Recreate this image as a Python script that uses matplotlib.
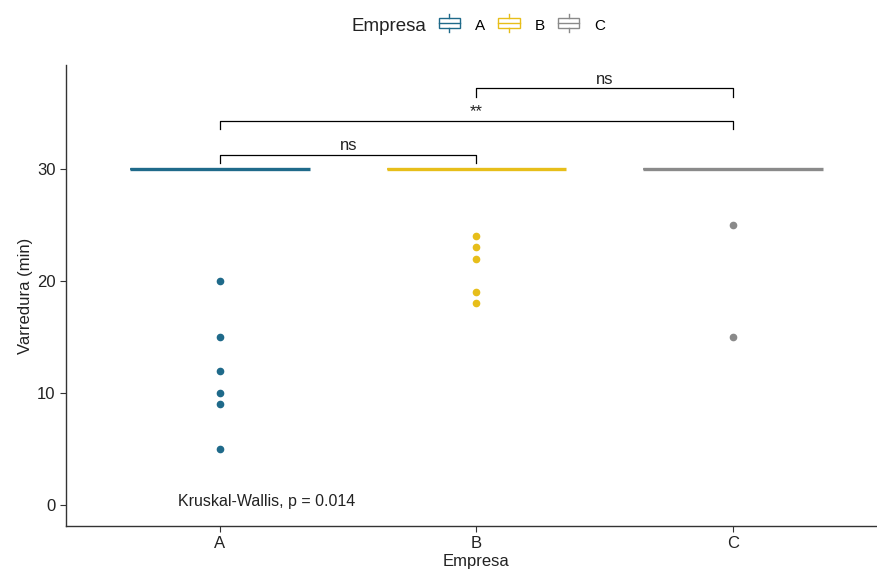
import numpy as np
import matplotlib
matplotlib.use("Agg")
import matplotlib.pyplot as plt
from matplotlib.lines import Line2D
from matplotlib.patches import Rectangle
from matplotlib.legend_handler import HandlerBase

plt.rcParams['font.family'] = ['Liberation Sans', 'DejaVu Sans']

empresas = ["A", "B", "C"]
cores = ["#1F6A8A", "#E7BE1A", "#8A8A8A"]

# tempos de varredura (min) por empresa; a maioria dos registros é 30
varredura_a = [30] * 24 + [20, 15, 12, 10, 9, 5]
varredura_b = [30] * 25 + [24, 23, 22, 19, 18]
varredura_c = [30] * 28 + [25, 15]
dados = [varredura_a, varredura_b, varredura_c]

# comparações par a par: (grupo1, grupo2, altura, rótulo)
comparacoes = [(1, 2, 31.3, "ns"), (1, 3, 34.3, "**"), (2, 3, 37.2, "ns")]
kruskal_txt = "Kruskal-Wallis, p = 0.014"


class HandlerBox(HandlerBase):
    def create_artists(self, legend, orig, xd, yd, w, h, fontsize, trans):
        c = orig.get_color()
        bw, bh = w, h * 0.85
        x0 = xd
        y0 = yd + (h - bh) / 2
        box = Rectangle((x0, y0), bw, bh, fill=False, ec=c, lw=1.0, transform=trans)
        mid = Line2D([x0, x0 + bw], [y0 + bh / 2] * 2, color=c, lw=1.0, transform=trans)
        top = Line2D([x0 + bw / 2] * 2, [y0 + bh, y0 + bh + h * 0.3], color=c, lw=1.0, transform=trans)
        bot = Line2D([x0 + bw / 2] * 2, [y0, y0 - h * 0.3], color=c, lw=1.0, transform=trans)
        return [box, mid, top, bot]


fig = plt.figure(figsize=(8.77, 5.81), dpi=100)
ax = fig.add_axes([0.0753, 0.0947, 0.936, 0.7935])

pos = np.arange(1, len(empresas) + 1)
for i, (vals, cor) in enumerate(zip(dados, cores)):
    ax.boxplot(vals, positions=[pos[i]], widths=0.7, whis=1.5, showcaps=False,
               patch_artist=True,
               boxprops=dict(facecolor="white", edgecolor=cor, linewidth=1.2),
               medianprops=dict(color=cor, linewidth=2.4),
               whiskerprops=dict(color=cor, linewidth=1.2),
               flierprops=dict(marker="o", markerfacecolor=cor, markeredgecolor=cor,
                               markersize=4.5, linestyle="none"))

tick = 0.75
for g1, g2, y, lab in comparacoes:
    ax.plot([g1, g1, g2, g2], [y - tick, y, y, y - tick], color="black", lw=0.9)
    ax.text((g1 + g2) / 2, y + 0.15, lab, ha="center", va="bottom", fontsize=12, color="#222222")

ax.text(0.836, 0.35, kruskal_txt, ha="left", va="center", fontsize=11.5, color="#222222")

ax.set_xlim(0.4, 3.6)
ax.set_ylim(-1.87, 39.3)
ax.set_xticks(pos)
ax.set_xticklabels(empresas)
ax.set_yticks([0, 10, 20, 30])
ax.tick_params(axis="both", labelsize=12, colors="#333333", length=4, width=0.8, labelcolor="#222222")
for s in ["top", "right"]:
    ax.spines[s].set_visible(False)
for s in ["left", "bottom"]:
    ax.spines[s].set_color("#333333")
    ax.spines[s].set_linewidth(1.0)
ax.set_xlabel("Empresa", fontsize=12, color="#222222", labelpad=2)
ax.set_ylabel("Varredura (min)", fontsize=12, color="#222222", labelpad=3)

# legenda no topo, título à esquerda das chaves
fig.text(0.486, 0.955, "Empresa", ha="right", va="center", fontsize=13.5, color="#222222")
handles = [Line2D([], [], color=c) for c in cores]
fig.legend(handles, empresas, handler_map={Line2D: HandlerBox()},
           loc="center left", bbox_to_anchor=(0.5, 0.955), borderpad=0, borderaxespad=0,
           ncol=3, frameon=False, fontsize=11,
           handlelength=1.4, handleheight=0.9, handletextpad=1.0, columnspacing=0.85)

fig.savefig("out.png", dpi=100)
